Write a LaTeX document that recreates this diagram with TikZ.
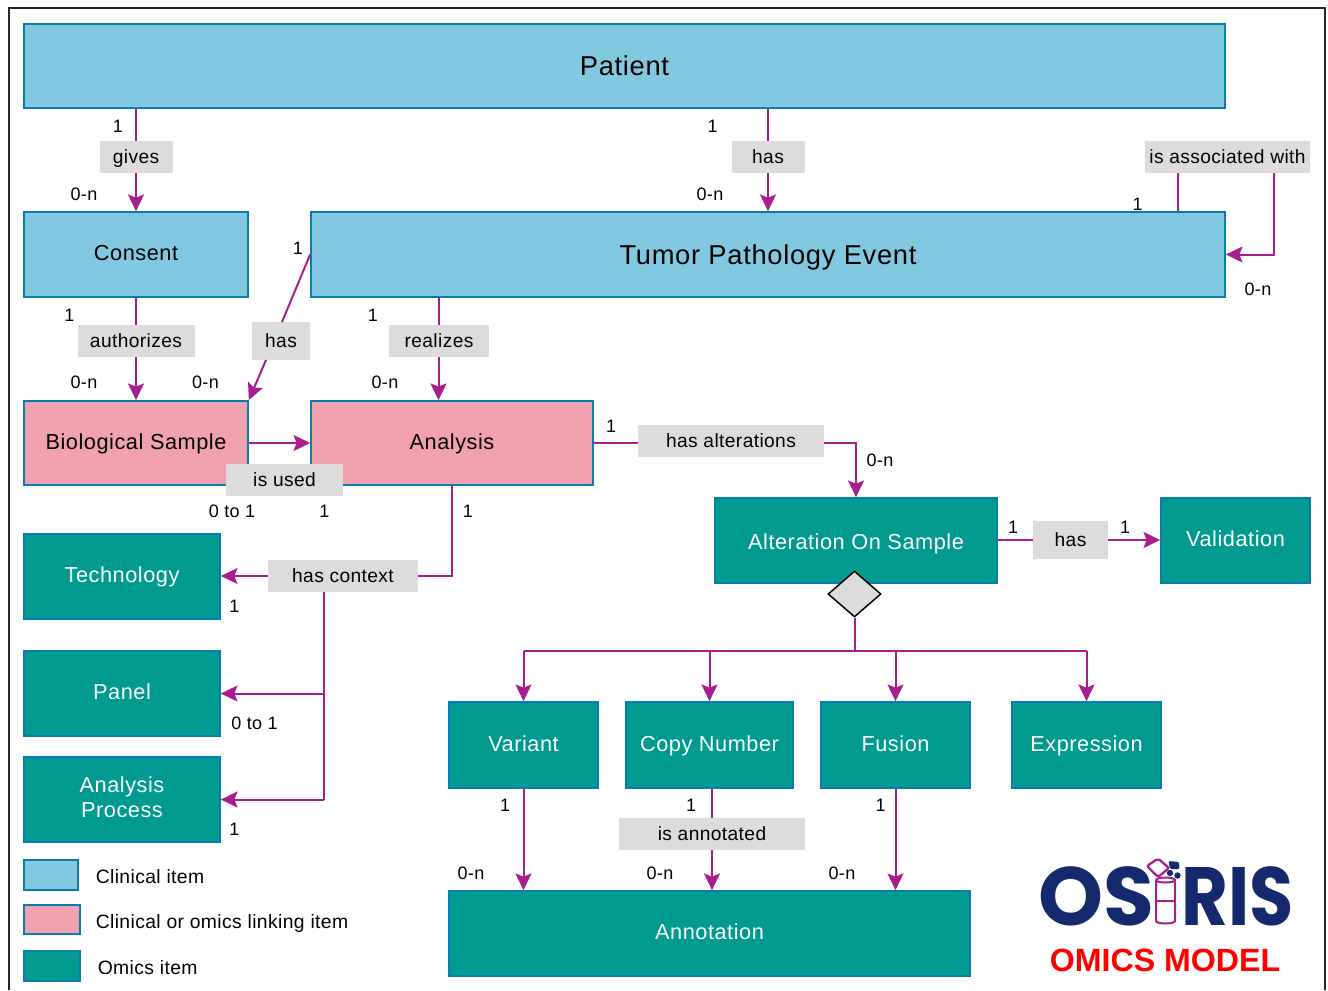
\documentclass[tikz,border=0pt]{standalone}
\usepackage{fontspec}
\setmainfont[LetterSpace=2]{Liberation Sans}
\newfontfamily\boxfont[LetterSpace=2.5]{Liberation Sans}
\newfontfamily\plainfont{Liberation Sans}
\newfontfamily\logofont{Poppins}
\usetikzlibrary{arrows.meta,shapes.geometric}
\definecolor{clin}{HTML}{82C8E0}
\definecolor{link}{HTML}{F0A3AE}
\definecolor{omic}{HTML}{009A90}
\definecolor{edge}{HTML}{0A7DB0}
\definecolor{lab}{HTML}{DCDCDC}
\definecolor{rel}{HTML}{A81E8C}
\definecolor{navy}{HTML}{16296E}
\tikzset{
  x=0.75pt,y=-0.75pt,
  boxbase/.style={draw=edge,line width=1.3pt,inner sep=0pt,align=center,text height=9pt,text depth=0pt,font=\boxfont\fontsize{16.3}{18.75}\selectfont},
  bigtext/.style={font=\boxfont\fontsize{20.5}{24}\selectfont,text height=15pt},
  clinbox/.style={boxbase,fill=clin,text=black},
  linkbox/.style={boxbase,fill=link,text=black},
  omicbox/.style={boxbase,fill=omic,text=white},
  sz/.style 2 args={minimum width=#1*0.75pt,minimum height=#2*0.75pt},
  lbl/.style={fill=lab,inner sep=0pt,text height=9.5pt,text depth=0pt,font=\fontsize{14.4}{16}\selectfont},
  card/.style={inner sep=0pt,font=\fontsize{13.5}{16}\selectfont},
  legtxt/.style={inner sep=0pt,anchor=west,text height=9.5pt,text depth=0pt,font=\fontsize{14.5}{16}\selectfont},
  logotxt/.style={inner sep=0pt,anchor=base west,text=navy,text height=44pt,text depth=0pt,font=\logofont\bfseries\fontsize{62}{62}\selectfont},
  conn/.style={draw=rel,line width=1.5pt},
  arr/.style={conn,-{Stealth[inset=2.4pt,length=12.5pt,width=12pt]}},
}
\begin{document}
\begin{tikzpicture}
\useasboundingbox (0,0) rectangle (1328,990);
\fill[white] (0,0) rectangle (1328,990);
\draw[line width=1.1pt,black!85] (9,990) -- (9,8) -- (1325,8) -- (1325,990);

% boxes
\node[clinbox,sz={1201}{84},bigtext,text height=14pt] (patient) at (624.5,66) {Patient};
\node[clinbox,sz={224}{85}] (consent) at (136,254.5) {Consent};
\node[clinbox,sz={914}{85},bigtext] (tumor) at (768,254.5) {Tumor Pathology Event};
\node[linkbox,sz={224}{84}] (bio) at (136,443) {Biological Sample};
\node[linkbox,sz={282}{84}] (analysis) at (452,443) {Analysis};
\node[omicbox,sz={282}{85},text height=14pt] (aos) at (856,540.5) {Alteration On Sample};
\node[omicbox,sz={149}{85}] (valid) at (1235.5,540.5) {Validation};
\node[omicbox,sz={196}{85}] (tech) at (122,576.5) {Technology};
\node[omicbox,sz={196}{85}] (panel) at (122,693.5) {Panel};
\node[omicbox,sz={196}{85},text height=,text depth=3pt] (process) at (122,799.5) {Analysis\\Process};
\node[omicbox,sz={149}{86}] (variant) at (523.5,745) {Variant};
\node[omicbox,sz={167}{86}] (copy) at (709.5,745) {Copy Number};
\node[omicbox,sz={149}{86}] (fusion) at (895.5,745) {Fusion};
\node[omicbox,sz={149}{86}] (express) at (1086.5,745) {Expression};
\node[omicbox,sz={521}{85}] (annot) at (709.5,933.5) {Annotation};

% relation labels
\node[lbl,sz={73}{32}] (gives) at (136,157) {gives};
\node[lbl,sz={73}{32}] (hasT) at (768,157) {has};
\node[lbl,sz={165}{32}] (assoc) at (1227.5,157) {is associated with};
\node[lbl,sz={117}{32}] (auth) at (136,341) {authorizes};
\node[lbl,sz={58}{38}] (hasB) at (281,341) {has};
\node[lbl,sz={100}{32}] (real) at (439,341) {realizes};
\node[lbl,sz={117}{32}] (used) at (284.5,480) {is used};
\node[lbl,sz={186}{32}] (alter) at (731,441) {has alterations};
\node[lbl,sz={75}{38}] (hasV) at (1070.5,540) {has};
\node[lbl,sz={150}{32}] (context) at (343,576) {has context};
\node[lbl,sz={186}{32}] (annotated) at (712,834) {is annotated};

% branch point
\node[diamond,draw=black,fill=lab,line width=1.1pt,inner sep=0pt,aspect=1.15,minimum width=53*0.75pt,minimum height=46*0.75pt] (dia) at (854.5,594) {};
\coordinate (busm) at (854.5,651);
\coordinate (bus1) at (variant.north |- busm);
\coordinate (bus2) at (copy.north |- busm);
\coordinate (bus3) at (fusion.north |- busm);
\coordinate (bus4) at (express.north |- busm);

% connectors
\draw[conn] (patient.south -| gives) -- (gives.north);
\draw[arr] (gives.south) -- (consent.north);
\draw[conn] (patient.south -| hasT) -- (hasT.north);
\draw[arr] (hasT.south) -- (tumor.north -| hasT);
\coordinate (a1) at (1177.5,173);
\coordinate (a2) at (1274,173);
\draw[conn] (tumor.north -| a1) -- (a1);
\draw[arr] (a2) |- (tumor.east);
\draw[conn] (consent.south) -- (auth.north);
\draw[arr] (auth.south) -- (bio.north);
\coordinate (hb1) at (282,322);
\coordinate (hb2) at (266,360);
\draw[conn] (tumor.west) -- (hb1);
\draw[arr] (hb2) -- (bio.north east);
\coordinate (ta) at (438.5,297);
\draw[conn] (ta) -- (ta |- real.north);
\draw[arr] (ta |- real.south) -- (ta |- analysis.north);
\draw[arr] (bio.east) -- (analysis.west);
\draw[conn] (analysis.east) -- (alter.west |- analysis.east);
\draw[arr] (alter.east |- analysis.east) -| (aos.north);
\draw[conn] (aos.east |- hasV) -- (hasV.west);
\draw[arr] (hasV.east) -- (valid.west |- hasV);
\draw[conn] (analysis.south) |- (context.east);
\draw[arr] (context.west) -- (tech.east |- context);
\coordinate (ctx) at (324,592);
\draw[conn] (ctx) -- (ctx |- process.east);
\draw[arr] (ctx |- panel.east) -- (panel.east);
\draw[arr] (ctx |- process.east) -- (process.east);
\draw[conn] (dia.south) -- (busm);
\draw[conn] (bus1) -- (bus4);
\draw[arr] (bus1) -- (variant.north);
\draw[arr] (bus2) -- (copy.north);
\draw[arr] (bus3) -- (fusion.north);
\draw[arr] (bus4) -- (express.north);
\draw[arr] (variant.south) -- (variant.south |- annot.north);
\draw[conn] (annotated.north |- copy.south) -- (annotated.north);
\draw[arr] (annotated.south) -- (annotated.south |- annot.north);
\draw[arr] (fusion.south) -- (fusion.south |- annot.north);

% cardinalities
\node[card] (c01) at (118,126) {1};
\node[card] (c02) at (84,194) {0-n};
\node[card] (c03) at (712.5,126) {1};
\node[card] (c04) at (710,194) {0-n};
\node[card] (c05) at (1137.5,204) {1};
\node[card] (c06) at (1258,289) {0-n};
\node[card] (c07) at (298,248) {1};
\node[card] (c08) at (69.5,315) {1};
\node[card] (c09) at (373,315) {1};
\node[card] (c10) at (84,382) {0-n};
\node[card] (c11) at (205.5,382) {0-n};
\node[card] (c12) at (385,382) {0-n};
\node[card] (c13) at (611,426) {1};
\node[card] (c14) at (880,460) {0-n};
\node[card] (c15) at (232,511) {0 to 1};
\node[card] (c16) at (324.5,511) {1};
\node[card] (c17) at (468,511) {1};
\node[card] (c18) at (1013,527) {1};
\node[card] (c19) at (1125,527) {1};
\node[card] (c20) at (234.5,606) {1};
\node[card] (c21) at (254.5,723) {0 to 1};
\node[card] (c22) at (234.5,829) {1};
\node[card] (c23) at (505,805) {1};
\node[card] (c24) at (691,805) {1};
\node[card] (c25) at (880.5,805) {1};
\node[card] (c26) at (471,873) {0-n};
\node[card] (c27) at (660,873) {0-n};
\node[card] (c28) at (842,873) {0-n};

% legend
\node[clinbox,sz={54}{30}] (lg1) at (51,875) {};
\node[linkbox,sz={56}{29}] (lg2) at (52,919.5) {};
\node[omicbox,sz={56}{30}] (lg3) at (52,966) {};
\node[legtxt] (lt1) at (95.5,877) {Clinical item};
\node[legtxt] (lt2) at (95.5,922) {Clinical or omics linking item};
\node[legtxt] (lt3) at (97.5,968) {Omics item};

% logo
\node[logotxt] (logoa) at (1038,925) {OS};
\begin{scope}[xshift=1179*0.75pt,yshift=-925*0.75pt,xscale=0.87]
\node[logotxt,transform shape] (logob) at (3,0) {RIS};
\end{scope}
\draw[rel,line width=1.5pt] (1156,880) -- (1156,921) arc[start angle=180,end angle=360,x radius=9.5,y radius=-2.5] -- (1175,880)
  (1156,880) arc[start angle=180,end angle=540,x radius=9.5,y radius=2.5]
  (1156,901) -- (1175,901);
\draw[rel,line width=1.7pt,rounded corners=1.5pt] (1147,866) -- (1158,858.5) -- (1169,868) -- (1158,877) -- cycle;
\fill[navy,rounded corners=1pt] (1168.5,861) -- (1179,862) -- (1179.5,869) -- (1170,869) -- cycle;
\fill[navy] (1170,873) circle[radius=3.2];
\fill[navy] (1177.5,875.5) circle[radius=3.2];
\node[inner sep=0pt,text=red,font=\plainfont\bfseries\fontsize{24.1}{26}\selectfont] (omics) at (1165,960) {OMICS MODEL};
\end{tikzpicture}
\end{document}
